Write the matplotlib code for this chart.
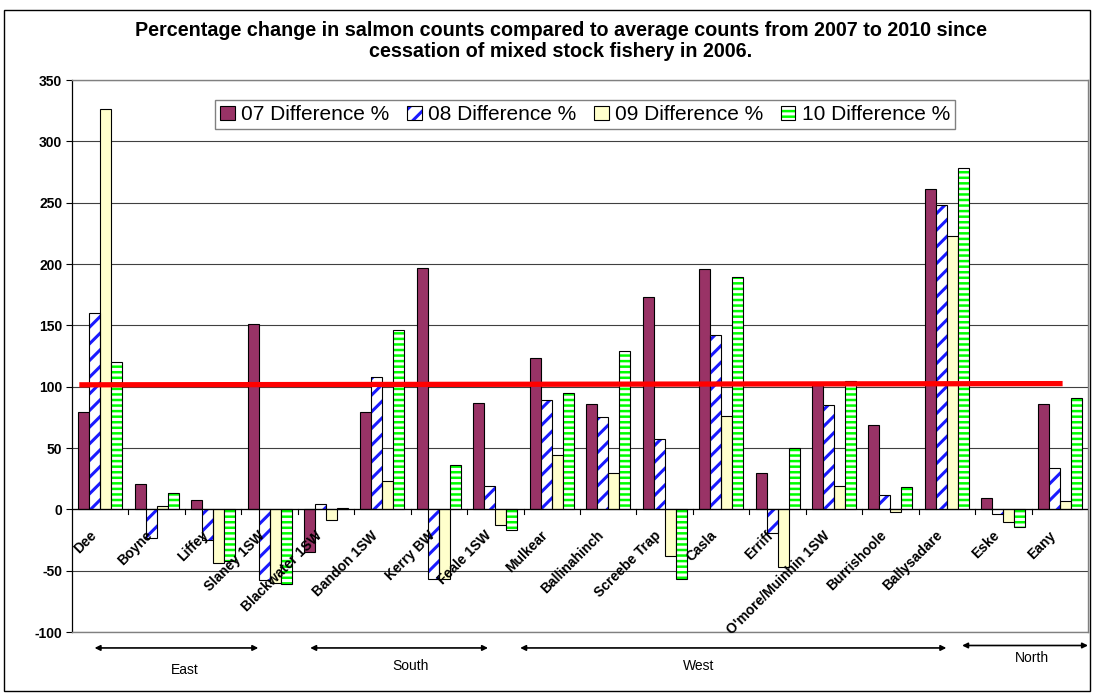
import numpy as np
import matplotlib
matplotlib.use("Agg")
import matplotlib.pyplot as plt
from matplotlib.patches import Patch, Rectangle

plt.rcParams['font.family'] = ['Liberation Sans', 'DejaVu Sans']
plt.rcParams['hatch.linewidth'] = 2.2
plt.rcParams['axes.unicode_minus'] = False

# Rivers (categories) and % differences
rivers = ["Dee", "Boyne", "Liffey", "Slaney 1SW", "Blackwater 1SW", "Bandon 1SW",
          "Kerry BW", "Feale 1SW", "Mulkear", "Ballinahinch", "Screebe Trap", "Casla",
          "Erriff", "O'more/Muinhin 1SW", "Burrishoole", "Ballysadare", "Eske", "Eany"]
diff07 = [79, 21, 8, 151, -35, 79, 197, 87, 123, 86, 173, 196, 30, 101, 69, 261, 9, 86]
diff08 = [160, -23, -25, -58, 4, 108, -57, 19, 89, 75, 57, 142, -19, 85, 12, 248, -4, 34]
diff09 = [326, 3, -44, -60, -9, 23, -57, -13, 44, 30, -38, 76, -47, 19, -2, 223, -10, 7]
diff10 = [120, 13, -42, -61, 1, 146, 36, -17, 95, 129, -57, 189, 50, 105, 18, 278, -14, 91]
series_labels = ["07 Difference %", "08 Difference %", "09 Difference %", "10 Difference %"]

# Regions and the span of river indices they cover
regions = ["East", "South", "West", "North"]
region_spans = [(0, 3), (4, 7), (8, 15), (16, 17)]

# Reference line (~100%)
ref_level = [101.5, 102.5]

W, H = 1093, 693
fig = plt.figure(figsize=(W / 100, H / 100), dpi=100)
ax = fig.add_axes([72 / W, 1 - 632 / H, 1016 / W, 552 / H])

x = np.arange(len(rivers))
bw = 0.195
off = [-1.5, -0.5, 0.5, 1.5]

ax.bar(x + off[0] * bw, diff07, bw, color='#993366', edgecolor='black', linewidth=0.8, zorder=3)
# 08: blue diagonal stripes on white, black outline
h08 = ax.bar(x + off[1] * bw, diff08, bw, color='white', edgecolor='#1a1aff', hatch='//',
             linewidth=0, zorder=3)
o08 = ax.bar(x + off[1] * bw, diff08, bw, color='none', edgecolor='black', linewidth=0.8, zorder=4)
ax.bar(x + off[2] * bw, diff09, bw, color='#ffffcc', edgecolor='black', linewidth=0.8, zorder=3)
# 10: green with white horizontal stripes
h10 = ax.bar(x + off[3] * bw, diff10, bw, color='#00ff00', edgecolor='white', hatch='---',
             linewidth=0, zorder=3)
o10 = ax.bar(x + off[3] * bw, diff10, bw, color='none', edgecolor='black', linewidth=0.8, zorder=4)

# red reference line
ax.plot([-0.37, 17.05], ref_level, color='#ff0000', linewidth=3.8, zorder=5, solid_capstyle='butt')

ax.set_xlim(-0.5, len(rivers) - 0.5)
ax.set_ylim(-100, 350)
ax.set_yticks(np.arange(-100, 351, 50))
ax.yaxis.grid(True, color='#404040', linewidth=0.8, zorder=0)
ax.set_axisbelow(True)
for lab in ax.get_yticklabels():
    lab.set_fontweight('bold')
ax.tick_params(axis='y', labelsize=10, length=4, width=0.8, direction='out', pad=3)

# category axis drawn at zero
ax.set_xticks([])
ax.axhline(0, color='black', linewidth=0.9, zorder=4)
for b in np.arange(0.5, len(rivers) - 0.5, 1):
    ax.plot([b, b], [0, -3.5], color='black', linewidth=0.8, zorder=4, clip_on=False)
for i, name in enumerate(rivers):
    ax.text(i - 0.2, -15.5, name, rotation=45, ha='right', va='top', rotation_mode='anchor',
            fontsize=10, fontweight='bold', zorder=6)

for side in ['top', 'right', 'bottom']:
    ax.spines[side].set_color('#808080')
    ax.spines[side].set_linewidth(1.0)
ax.spines['left'].set_color('black')
ax.spines['left'].set_linewidth(0.9)

handles = [Patch(facecolor='#993366', edgecolor='black', linewidth=0.8),
           (h08.patches[0], o08.patches[0]),
           Patch(facecolor='#ffffcc', edgecolor='black', linewidth=0.8),
           (h10.patches[0], o10.patches[0])]
leg = ax.legend(handles, series_labels, loc='center', bbox_to_anchor=(0.505, 0.937), ncol=4,
                fontsize=15, frameon=True, fancybox=False, handlelength=0.7, handleheight=0.7,
                handletextpad=0.3, columnspacing=0.85, borderpad=0.25)
leg.get_frame().set_edgecolor('#606060')
leg.get_frame().set_linewidth(1.0)

fig.text(0.513, 0.941,
         "Percentage change in salmon counts compared to average counts from 2007 to 2010 since\n"
         "cessation of mixed stock fishery in 2006.",
         ha='center', va='center', fontsize=14.2, fontweight='bold', linespacing=1.1)

# region arrows under the chart
arrow_ext = [(-0.1, 2.8), (3.72, 6.87), (7.44, 14.99), (15.27, 17.5)]
arrow_y = [-113, -113, -113, -111]
text_y = [-131, -128, -128, -121]
for name, (a, b), ay, ty, (s, e) in zip(regions, arrow_ext, arrow_y, text_y, region_spans):
    ax.annotate('', xy=(b, ay), xytext=(a, ay), xycoords='data',
                arrowprops=dict(arrowstyle='<|-|>', color='black', lw=1.2,
                                mutation_scale=8, shrinkA=0, shrinkB=0),
                annotation_clip=False)
    ax.text((s + e) / 2 + (0.0 if name != 'West' else -0.9), ty, name, ha='center', va='center',
            fontsize=10, clip_on=False)

fig.add_artist(Rectangle((4 / W, 2 / H), 1086 / W, 681 / H, transform=fig.transFigure,
                         fill=False, edgecolor='black', linewidth=1.0))

fig.savefig('out.png', dpi=100)
